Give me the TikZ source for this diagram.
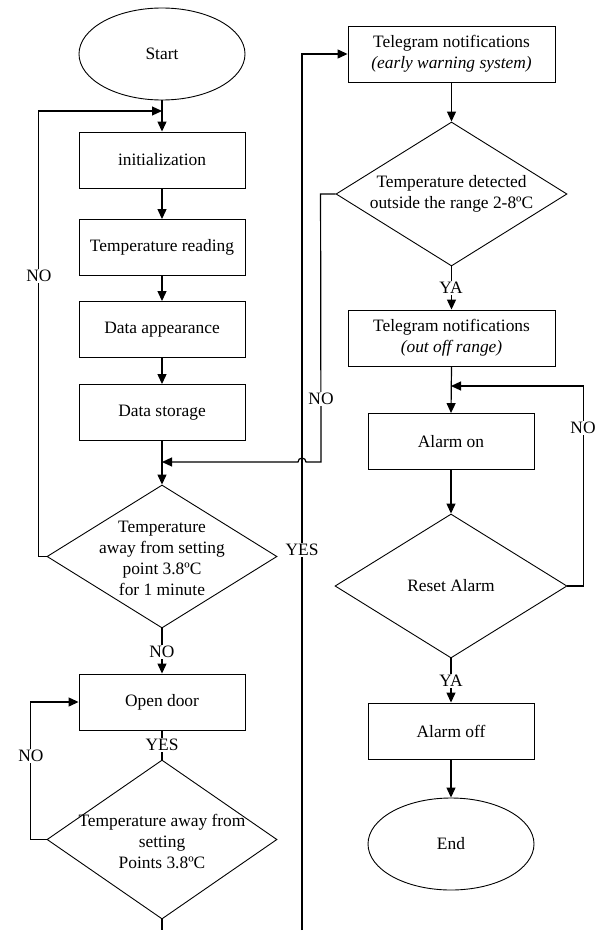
\documentclass[tikz,border=0pt]{standalone}
\usepackage{fontspec}
\setmainfont{Liberation Serif}
\usetikzlibrary{shapes.geometric,arrows.meta}
\begin{document}
\begin{tikzpicture}[x=1pt,y=-1pt,
  font=\fontsize{17.4}{21}\selectfont,
  box/.style={draw, line width=0.9pt, minimum width=166pt, minimum height=56pt, inner sep=0pt, align=center},
  wbox/.style={box, minimum width=207pt},
  term/.style={draw, ellipse, line width=0.9pt, minimum width=166pt, minimum height=92pt, inner sep=0pt},
  dia/.style={draw, diamond, line width=0.9pt, inner sep=0pt},
  dtext/.style={align=center, inner sep=0pt},
  arr/.style={line width=1.2pt, -{Triangle[length=10pt,width=9pt]}},
  ln/.style={line width=1.2pt},
  lbl/.style={fill=white, inner sep=1.5pt}]
\useasboundingbox (0,0) rectangle (603,934);

% left column
\node[term] (start) at (162,54) {Start};
\node[box] (init) at (162,160) {initialization};
\node[box] (read) at (162,247.5) {Temperature reading};
\node[box] (appear) at (162,329.5) {Data appearance};
\node[box] (store) at (162,412.5) {Data storage};
\node[dia, minimum width=230pt, minimum height=143pt] (dec1) at (162,556.5) {};
\node[dtext] at (162,558.5) {Temperature\\away from setting\\point 3.8ºC\\for 1 minute};
\node[box] (door) at (162,702) {Open door};
\node[dia, minimum width=230pt, minimum height=159pt] (dec2) at (162,839.5) {};
\node[dtext] at (162,841) {Temperature away from\\setting\\Points 3.8ºC};

% right column
\node[wbox] (tg1) at (451.5,54) {Telegram notifications\\\textit{(early warning system)}};
\node[dia, minimum width=231pt, minimum height=144pt] (dec3) at (451.5,194) {};
\node[dtext] at (451.5,193.5) {Temperature detected\\outside the range 2-8ºC};
\node[wbox] (tg2) at (451.5,338) {Telegram notifications\\\textit{(out off range)}};
\node[box] (alon) at (451,441.5) {Alarm on};
\node[dia, minimum width=232pt, minimum height=144pt] (dec4) at (451,586) {};
\node[dtext] at (451,586) {Reset Alarm};
\node[box] (aloff) at (451,731) {Alarm off};
\node[term] (endn) at (451,844) {End};

% junctions and free ends
\coordinate (j1) at (162,111);
\coordinate (j2) at (162,462);
\coordinate (j3) at (451,386);
\coordinate (yb) at (302,930);
\coordinate (db) at (162,930);

% connectors left
\draw[arr] (start.south) -- (init.north);
\draw[arr] (init.south) -- (read.north);
\draw[arr] (read.south) -- (appear.north);
\draw[arr] (appear.south) -- (store.north);
\draw[arr] (store.south) -- (dec1.north);
\draw[arr] (dec1.west) -- ++(-8,0) |- (j1);
\draw[arr] (dec1.south) -- (door.north);
\draw[ln] (door.south) -- (dec2.north);
\draw[arr] (dec2.west) -- ++(-16,0) |- (door.west);
\draw[ln] (dec2.south) -- (db);

% long YES line
\draw[arr] (yb) |- (tg1.west);

% NO from dec3 back to left column, hopping over the YES line
\draw[arr] (dec3.west) -- ++(-15,0) -- (321,462) -- (306,462) arc[start angle=0,end angle=180,radius=4pt] -- (j2);

% connectors right
\draw[arr] (tg1.south) -- (dec3.north);
\draw[arr] (dec3.south) -- (tg2.north);
\draw[arr] (tg2.south) -- (alon.north);
\draw[arr] (dec4.east) -- ++(16,0) |- (j3);
\draw[arr] (alon.south) -- (dec4.north);
\draw[arr] (dec4.south) -- (aloff.north);
\draw[arr] (aloff.south) -- (endn.north);

% labels
\node[lbl] at (39,276) {NO};
\node[lbl] at (162,652) {NO};
\node[lbl] at (162,745) {YES};
\node[lbl] at (31,756) {NO};
\node[lbl] at (321,399) {NO};
\node[lbl] at (302,550) {YES};
\node[lbl] at (451,288) {YA};
\node[lbl] at (583,428) {NO};
\node[lbl] at (451,681) {YA};
\end{tikzpicture}
\end{document}
